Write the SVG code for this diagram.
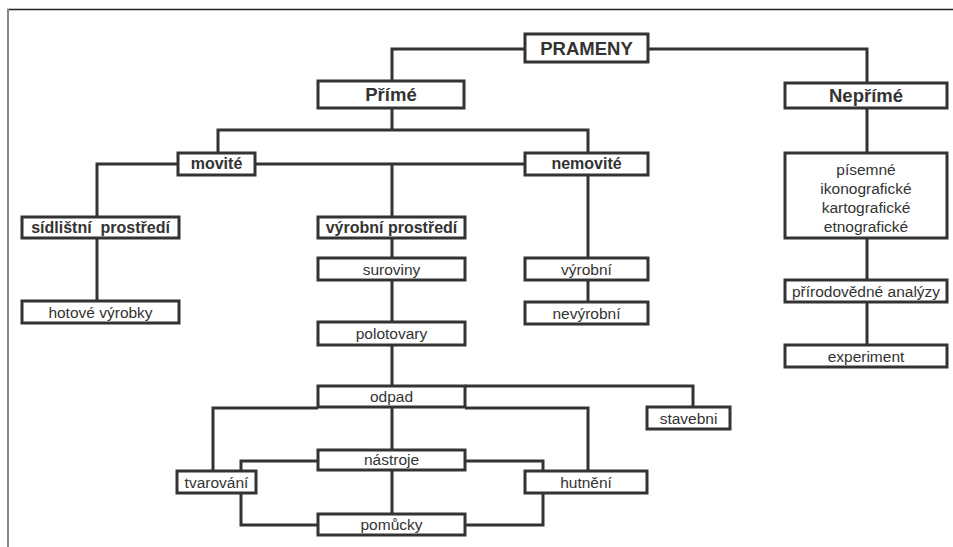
<svg xmlns="http://www.w3.org/2000/svg" width="953" height="547" viewBox="0 0 953 547">
<style>
.box{fill:#fff;stroke:#333;stroke-width:3}
.ln{fill:none;stroke:#333;stroke-width:3}
text{font-family:"Liberation Sans",Arial,sans-serif;fill:#333;text-anchor:middle}
.b{font-weight:bold;font-size:16px}
.bb{font-weight:bold;font-size:18.5px}
.n{font-size:15.5px}
</style>
<rect x="0" y="0" width="953" height="547" fill="#fff"/>
<g id="frame">
<line x1="7" y1="9.5" x2="953" y2="9.5" stroke="#222" stroke-width="1.5"/>
<line x1="8" y1="9" x2="8" y2="547" stroke="#888" stroke-width="2"/>
</g>
<g id="connectors">
<polyline class="ln" points="392,81 392,49 525,49"/>
<polyline class="ln" points="648,49 867,49 867,83"/>
<polyline class="ln" points="392,108 392,130"/>
<polyline class="ln" points="218,153 218,130 588,130 588,153"/>
<polyline class="ln" points="97,217 97,164 178,164"/>
<line class="ln" x1="255" y1="164" x2="525" y2="164"/>
<line class="ln" x1="392" y1="164" x2="392" y2="217"/>
<line class="ln" x1="97" y1="238" x2="97" y2="301"/>
<line class="ln" x1="392" y1="238" x2="392" y2="258"/>
<line class="ln" x1="392" y1="280" x2="392" y2="322"/>
<line class="ln" x1="392" y1="345" x2="392" y2="386"/>
<line class="ln" x1="588" y1="175" x2="588" y2="258"/>
<line class="ln" x1="588" y1="280" x2="588" y2="302"/>
<line class="ln" x1="867" y1="108" x2="867" y2="153"/>
<line class="ln" x1="867" y1="238" x2="867" y2="280"/>
<line class="ln" x1="867" y1="302" x2="867" y2="345"/>
<polyline class="ln" points="465,386 693,386 693,407"/>
<polyline class="ln" points="213,471 213,408 318,408"/>
<polyline class="ln" points="465,408 588,408 588,471"/>
<line class="ln" x1="392" y1="407" x2="392" y2="450"/>
<polyline class="ln" points="241,471 241,461 318,461"/>
<polyline class="ln" points="465,461 543,461 543,471"/>
<line class="ln" x1="392" y1="470" x2="392" y2="514"/>
<polyline class="ln" points="241,493 241,525 318,525"/>
<polyline class="ln" points="543,493 543,525 465,525"/>
</g>
<g id="prameny"><rect class="box" x="525" y="34" width="123" height="28"/><text class="bb" x="586.5" y="54.5">PRAMENY</text></g>
<g id="prime"><rect class="box" x="318" y="81" width="146" height="27"/><text class="bb" x="391" y="101">Přímé</text></g>
<g id="neprime"><rect class="box" x="785" y="83" width="162" height="25"/><text class="bb" x="866" y="102">Nepřímé</text></g>
<g id="movite"><rect class="box" x="178" y="153" width="77" height="22"/><text class="b" x="216.5" y="169">movité</text></g>
<g id="nemovite"><rect class="box" x="525" y="153" width="123" height="22"/><text class="b" x="586.5" y="169">nemovité</text></g>
<g id="sidlistni"><rect class="box" x="22" y="217" width="157" height="21"/><text class="b" x="100.5" y="233" xml:space="preserve">sídlištní  prostředí</text></g>
<g id="vyrobni-prostredi"><rect class="box" x="318" y="217" width="147" height="21"/><text class="b" x="391.5" y="233">výrobní prostředí</text></g>
<g id="hotove"><rect class="box" x="22" y="301" width="157" height="22"/><text class="n" x="100.5" y="317.5">hotové výrobky</text></g>
<g id="suroviny"><rect class="box" x="318" y="258" width="147" height="22"/><text class="n" x="391.5" y="274.5">suroviny</text></g>
<g id="polotovary"><rect class="box" x="318" y="322" width="147" height="23"/><text class="n" x="391.5" y="338.5">polotovary</text></g>
<g id="vyrobni"><rect class="box" x="525" y="258" width="123" height="22"/><text class="n" x="586.5" y="274.5">výrobní</text></g>
<g id="nevyrobni"><rect class="box" x="525" y="302" width="123" height="22"/><text class="n" x="586.5" y="318.5">nevýrobní</text></g>
<g id="pisemne"><rect class="box" x="785" y="153" width="162" height="85"/>
<text class="n" x="866" y="175">písemné</text>
<text class="n" x="866" y="194">ikonografické</text>
<text class="n" x="866" y="213">kartografické</text>
<text class="n" x="866" y="232">etnografické</text></g>
<g id="prirodovedne"><rect class="box" x="785" y="280" width="162" height="22"/><text class="n" x="866" y="296.5">přírodovědné analýzy</text></g>
<g id="experiment"><rect class="box" x="785" y="345" width="162" height="22"/><text class="n" x="866" y="361.5">experiment</text></g>
<g id="odpad"><rect class="box" x="318" y="386" width="147" height="21"/><text class="n" x="391.5" y="401.5">odpad</text></g>
<g id="stavebni"><rect class="box" x="647" y="407" width="83" height="22"/><text class="n" x="688.5" y="423.5">stavebni</text></g>
<g id="nastroje"><rect class="box" x="318" y="450" width="147" height="20"/><text class="n" x="391.5" y="465">nástroje</text></g>
<g id="tvarovani"><rect class="box" x="177" y="471" width="79" height="22"/><text class="n" x="216.5" y="487.5">tvarování</text></g>
<g id="hutneni"><rect class="box" x="525" y="471" width="122" height="22"/><text class="n" x="586" y="487.5">hutnění</text></g>
<g id="pomucky"><rect class="box" x="318" y="514" width="147" height="21"/><text class="n" x="391.5" y="529.5">pomůcky</text></g>
</svg>
